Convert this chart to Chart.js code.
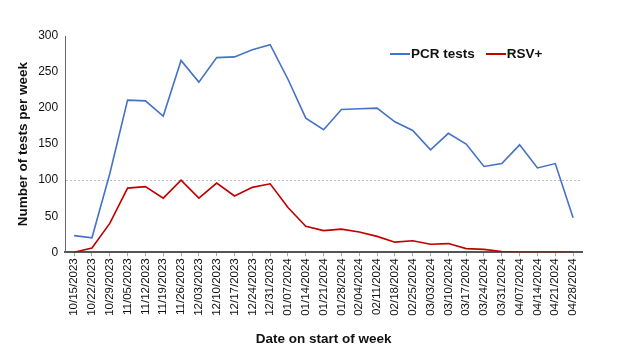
<!DOCTYPE html>
<html>
<head>
<meta charset="utf-8">
<script src="https://cdn.jsdelivr.net/npm/chart.js@4"></script>
<style>
  body { margin: 0; background: #fff; }
  #wrap { position: relative; width: 628px; height: 350px; }
  #legend { position: absolute; left: 390px; top: 46px; display: flex; align-items: center;
            font: bold 13.5px "Liberation Sans", Arial, sans-serif; color: #111; }
  #legend .ln { display: inline-block; width: 20px; height: 2px; margin-right: 1px; }
  #legend .item { display: flex; align-items: center; margin-right: 11px; }
</style>
</head>
<body>
<div id="wrap">
  <canvas id="chart" width="628" height="350"></canvas>
  <div id="legend">
    <span class="item"><span class="ln" style="background:#4472c4"></span>PCR tests</span>
    <span class="item"><span class="ln" style="background:#c00000"></span>RSV+</span>
  </div>
</div>
<script>
const weeks = ['10/15/2023', '10/22/2023', '10/29/2023', '11/05/2023', '11/12/2023', '11/19/2023',
    '11/26/2023', '12/03/2023', '12/10/2023', '12/17/2023', '12/24/2023', '12/31/2023',
    '01/07/2024', '01/14/2024', '01/21/2024', '01/28/2024', '02/04/2024', '02/11/2024',
    '02/18/2024', '02/25/2024', '03/03/2024', '03/10/2024', '03/17/2024', '03/24/2024',
    '03/31/2024', '04/07/2024', '04/14/2024', '04/21/2024', '04/28/2024'];

const pcrTests = [23, 20, 109, 211, 210, 189, 266, 236, 270, 271, 281, 288, 240, 186, 170,
    198, 199, 200, 181, 169, 142, 165, 150, 119, 123, 149, 117, 123, 48];

const rsvPositive = [0, 6, 40, 89, 91, 75, 100, 75, 96, 78, 90, 95, 62, 36, 30, 32, 28, 22,
    14, 16, 11, 12, 5, 4, 1, 0, 0, 0, 0];

const yTicks = [0, 50, 100, 150, 200, 250, 300];

const font = 'Liberation Sans, Arial, sans-serif';

const ctx = document.getElementById('chart').getContext('2d');
const chart = new Chart(ctx, {
    type: 'line',
    data: {
        labels: weeks,
        datasets: [
            {
                label: 'PCR tests',
                data: pcrTests,
                borderColor: '#4472c4',
                borderWidth: 1.6,
                pointRadius: 0,
                tension: 0
            },
            {
                label: 'RSV+',
                data: rsvPositive,
                borderColor: '#c00000',
                borderWidth: 1.6,
                pointRadius: 0,
                tension: 0
            }
        ]
    },
    options: {
        responsive: false,
        animation: false,
        layout: { padding: { top: 36, right: 46, bottom: 0, left: 11 } },
        plugins: {
            legend: { display: false },
            tooltip: { enabled: false }
        },
        scales: {
            x: {
                offset: true,
                grid: { drawOnChartArea: false, color: '#aaa', tickLength: 4 },
                border: { color: '#555', width: 2 },
                ticks: {
                    color: '#111',
                    font: { family: font, size: 11.5 },
                    maxRotation: 90,
                    minRotation: 90,
                    autoSkip: false,
                    padding: 2
                },
                title: {
                    display: true,
                    text: 'Date on start of week',
                    color: '#111',
                    font: { family: font, size: 13.5, weight: 'bold' },
                    padding: { top: 13, bottom: 3 }
                }
            },
            y: {
                min: 0,
                max: 300,
                afterBuildTicks: (axis) => { axis.ticks = yTicks.map(v => ({ value: v })); },
                grid: {
                    color: (c) => c.tick && c.tick.value === 100 ? '#bbb' : 'transparent',
                    drawTicks: false
                },
                border: { color: '#666', width: 1, dash: [2, 2] },
                ticks: {
                    color: '#111',
                    font: { family: font, size: 12 },
                    padding: 7
                },
                title: {
                    display: true,
                    text: 'Number of tests per week',
                    color: '#111',
                    font: { family: font, size: 13.5, weight: 'bold' },
                    padding: { top: 4, bottom: 0 }
                }
            }
        }
    }
});
</script>
</body>
</html>
